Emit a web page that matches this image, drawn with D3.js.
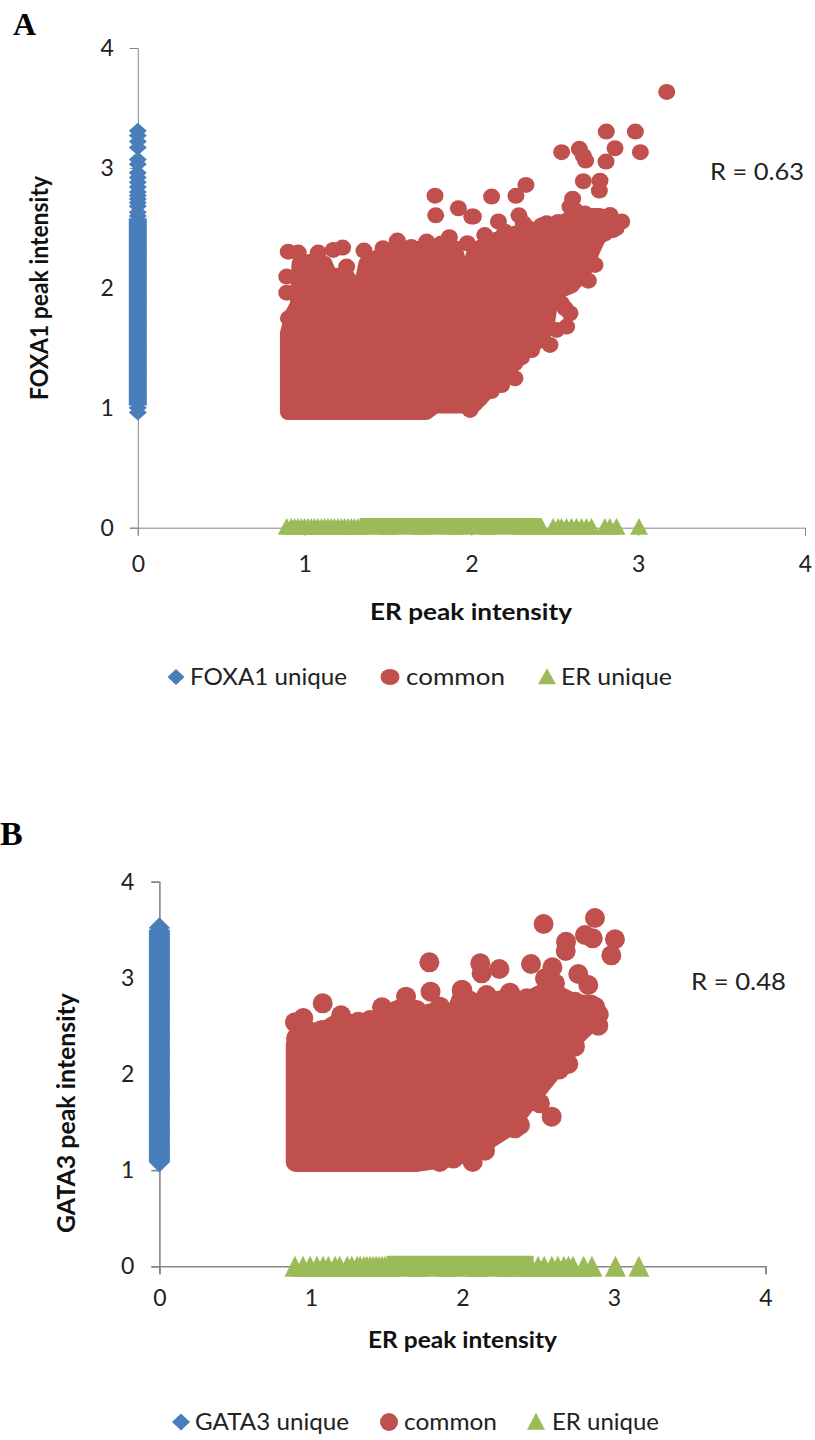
<!DOCTYPE html>
<html>
<head>
<meta charset="utf-8">
<script src="https://cdn.jsdelivr.net/npm/d3@7"></script>
<style>
  body { margin: 0; background: #fff; }
  svg { display: block; }
  text { font-family: Lato, sans-serif; fill: #222; }
  .letter { font-family: "Liberation Serif", serif; font-weight: bold; fill: #000; }
  .axisLabel { font-weight: bold; fill: #111; }
</style>
</head>
<body>
<script>
const ticks = [0, 1, 2, 3, 4];
const blue = "#4a7ebb", red = "#c0504d", green = "#9bbb59";

// Panel A, values
const foxa1UniqueA = [3.31, 3.27, 3.22, 3.17, 3.07, 3.03, 2.96, 2.92, 2.88, 2.84, 2.8, 2.77, 2.74, 2.71, 2.68, 2.63, 2.6, 2.3, 2.1, 1.9, 1.7, 1.5, 1.3, 1.1, 1.04, 1.0, 0.96];
const foxa1BandA = [1.02, 2.58];

const commonErA = [3.171, 2.809, 2.983, 2.861, 3.013, 2.541, 2.647, 2.671, 2.685, 2.807, 2.671, 2.771, 2.767, 2.121, 2.267, 2.327, 2.607, 2.285, 2.162, 2.012, 2.591, 2.311, 2.451, 2.831, 2.901, 2.851, 2.801, 2.741, 2.701, 2.561, 2.591, 2.571, 2.511, 2.471, 2.361, 2.261, 2.261, 2.181, 2.052, 1.992,
  0.902, 0.962, 1.082, 1.172, 1.228, 1.356, 1.782, 1.786, 1.922, 2.002, 1.868, 1.976, 1.556, 1.732, 1.472, 1.252, 0.893, 0.893, 0.903, 0.973, 1.052,
  1.47, 1.64, 1.82, 2.08, 2.2, 2.34, 2.42, 2.52, 2.62, 2.68, 2.12, 2.2, 2.3, 2.54];
const commonFoxa1A = [3.634, 3.303, 3.303, 3.164, 3.131, 3.131, 3.159, 3.1, 3.061, 3.053, 2.889, 2.894, 2.811, 2.761, 2.767, 2.858, 2.744, 2.605, 2.553, 2.594, 2.678, 2.539, 2.539, 2.608, 2.553, 2.483, 2.455, 2.191, 2.06, 1.83, 1.788, 1.677, 1.649, 1.524, 1.482, 1.371, 1.246, 1.19, 1.079, 0.982,
  2.302, 2.294, 2.294, 2.316, 2.336, 2.311, 2.769, 2.605, 2.664, 2.594, 2.422, 2.372, 2.394, 2.386, 2.302, 2.177, 2.094, 1.96, 1.746, 2.177, 2.219,
  2.33, 2.34, 2.37, 2.44, 2.47, 2.5, 2.52, 2.55, 2.65, 2.62, 1.14, 1.27, 1.42, 1.87];

// dense part of the cloud, too packed to read single points
const coreErA = [0.9, 0.93, 0.96, 0.97, 1.05, 1.12, 1.15, 1.25, 1.3, 1.34, 1.37, 1.5, 1.56, 1.65, 1.73, 1.78, 1.85, 1.9, 1.93, 1.99, 2.02, 2.1, 2.2, 2.3, 2.42, 2.45, 2.48, 2.6, 2.65, 2.7, 2.72, 2.76, 2.82, 2.87];
const coreTopA = [1.62, 1.78, 1.86, 2.2, 2.22, 2.2, 2.1, 2.1, 2.0, 2.0, 2.2, 2.3, 2.35, 2.3, 2.35, 2.33, 2.33, 2.33, 2.16, 2.16, 2.3, 2.38, 2.42, 2.47, 2.48, 2.5, 2.5, 2.58, 2.6, 2.6, 2.6, 2.6, 2.58, 2.52];
const coreBottomA = [0.965, 0.965, 0.965, 0.965, 0.965, 0.965, 0.965, 0.965, 0.965, 0.965, 0.965, 0.965, 0.965, 0.965, 0.965, 1.02, 1.02, 1.02, 1.02, 1.02, 1.03, 1.15, 1.3, 1.45, 1.58, 1.68, 1.95, 2.02, 2.1, 2.2, 2.3, 2.42, 2.48, 2.5];

const erUniqueA = [0.893, 0.92, 0.94, 0.96, 0.98, 1.0, 1.02, 1.04, 1.06, 1.08, 1.1, 1.12, 1.14, 1.16, 1.18, 1.2, 1.22, 1.24, 1.26, 1.28, 1.3, 1.32, 1.34, 1.5, 1.7, 1.9, 2.1, 2.3, 2.4, 2.42,
  2.49, 2.52, 2.54, 2.57, 2.6, 2.63, 2.66, 2.69, 2.72, 2.8, 2.83, 2.87, 3.005];
const erBandA = [1.33, 2.42];

// Panel B
const gata3UniqueB = [3.52, 3.46, 3.42, 3.37, 3.33, 3.28, 3.24, 3.19, 3.15, 3.1, 3.05, 3.0, 2.95, 2.9, 2.8, 2.6, 2.4, 2.2, 2.0, 1.8, 1.6, 1.4, 1.2, 1.12, 1.085];
const gata3BandB = [1.085, 3.5];

const commonErB = [1.782, 1.078, 1.79, 1.628, 1.469, 1.199, 0.95, 0.895, 0.902, 2.0, 1.313, 1.39, 1.071, 1.698, 1.852,
  2.875, 2.536, 2.809, 2.86, 3.007, 2.684, 2.682, 2.983, 2.453, 2.118, 2.127, 2.244, 2.594, 2.765, 2.831, 2.545, 2.611, 1.995, 2.16, 2.314, 2.424, 2.743, 2.875, 2.897, 2.743, 2.699, 2.64, 2.512, 2.589, 2.38, 2.347, 2.193, 2.149, 2.068, 1.85, 1.94];
const commonGata3B = [3.161, 2.735, 2.856, 2.804, 2.693, 2.61, 2.582, 2.537, 2.371, 2.874, 2.544, 2.561, 2.458, 2.666, 2.7,
  3.622, 3.56, 3.446, 3.411, 3.401, 3.376, 3.279, 3.234, 3.144, 3.151, 3.047, 3.092, 3.109, 3.04, 2.926, 2.995, 2.943, 2.874, 2.822, 2.846, 2.787, 2.752, 2.7, 2.503, 2.284, 2.104, 2.048, 1.695, 1.556, 1.47, 1.435, 1.348, 1.203, 1.085, 1.085, 1.12];

const coreErB = [0.9, 0.95, 1.07, 1.2, 1.3, 1.4, 1.47, 1.63, 1.7, 1.85, 1.95, 2.0, 2.1, 2.3, 2.42, 2.55, 2.65, 2.75, 2.85, 2.9];
const coreTopB = [2.3, 2.45, 2.42, 2.55, 2.5, 2.5, 2.6, 2.7, 2.6, 2.65, 2.6, 2.8, 2.72, 2.78, 2.75, 2.85, 2.8, 2.72, 2.72, 2.62];
const coreBottomB = [1.085, 1.085, 1.085, 1.085, 1.085, 1.085, 1.085, 1.085, 1.085, 1.12, 1.14, 1.18, 1.25, 1.45, 1.7, 1.95, 2.15, 2.4, 2.55, 2.62];

const erUniqueB = [0.895, 0.948, 0.995, 1.04, 1.08, 1.115, 1.16, 1.19, 1.24, 1.27, 1.305, 1.325, 1.35, 1.37, 1.39, 1.41, 1.43, 1.45, 1.47, 1.49, 1.52, 1.7, 1.9, 2.1, 2.3, 2.45, 2.5, 2.54, 2.59, 2.63, 2.67, 2.7, 2.73, 2.8, 2.855, 3.01, 3.165];
const erBandB = [1.5, 2.47];

const svg = d3.select("body").append("svg").attr("width", 815).attr("height", 1440);

// the symbols are scaled on their own so marker width and height can differ
const circlePath = d3.symbol(d3.symbolCircle, Math.PI)();
const diamondPath = d3.symbol(d3.symbolDiamond, 2 * Math.tan(Math.PI / 6))();
const trianglePath = d3.symbol(d3.symbolTriangle, 3 * Math.sqrt(3))();

function circleAt(x, y, w, h) { return "translate(" + x + "," + y + ") scale(" + w / 2 + "," + h / 2 + ")"; }
function diamondAt(x, y, w, h) { return "translate(" + x + "," + y + ") scale(" + w / (2 * Math.tan(Math.PI / 6)) + "," + h / 2 + ")"; }
function triangleAt(x, y, w, h) { return "translate(" + x + "," + y + ") scale(" + w / (2 * Math.sqrt(3)) + "," + h / 3 + ")"; }

function drawPanel(p) {
  let xScale = d3.scaleLinear().domain([0, 4]).range(p.xRange);
  let yScale = d3.scaleLinear().domain([0, 4]).range(p.yRange);

  let xAxis = d3.axisBottom(xScale).tickValues(ticks).tickFormat(d3.format("d")).tickSize(p.tick).tickPadding(p.xPadding);
  let yAxis = d3.axisLeft(yScale).tickValues(ticks).tickFormat(d3.format("d")).tickSize(p.tick).tickPadding(p.yPadding);

  [[xAxis, yScale(0), 0], [yAxis, 0, xScale(0)]].forEach(a => {
    let g = svg.append("g")
      .attr("transform", "translate(" + a[2] + "," + a[1] + ")")
      .call(a[0]);
    g.selectAll("path, line").attr("stroke", "#868686").attr("stroke-width", p.axisWidth);
    g.selectAll("text").attr("font-size", p.tickFont).attr("font-family", "Lato").attr("fill", "#222");
  });

  // unique-to-y series, column on x = 0
  svg.append("path")
    .attr("d", d3.line()([[xScale(0), yScale(p.yBand[0])], [xScale(0), yScale(p.yBand[1])]]))
    .attr("stroke", blue).attr("stroke-width", p.blueSize[0]).attr("fill", "none");
  svg.append("g").selectAll("path").data(p.yUnique).enter().append("path")
    .attr("d", diamondPath)
    .attr("fill", blue)
    .attr("transform", d => diamondAt(xScale(0), yScale(d), p.blueSize[0], p.blueSize[1]));

  // common peaks
  let area = d3.area()
    .x(d => xScale(d))
    .y0((d, i) => yScale(p.coreBottom[i]))
    .y1((d, i) => yScale(p.coreTop[i]));
  svg.append("path")
    .attr("d", area(p.coreEr))
    .attr("fill", red).attr("stroke", red)
    .attr("stroke-width", p.redSize[1]).attr("stroke-linejoin", "round");
  svg.append("g").selectAll("path").data(p.commonEr).enter().append("path")
    .attr("d", circlePath)
    .attr("fill", red)
    .attr("transform", (d, i) => circleAt(xScale(d), yScale(p.commonY[i]), p.redSize[0], p.redSize[1]));

  // ER unique, row on y = 0
  svg.append("path")
    .attr("d", d3.line()([[xScale(p.erBand[0]), yScale(0) + p.bandShift], [xScale(p.erBand[1]), yScale(0) + p.bandShift]]))
    .attr("stroke", green).attr("stroke-width", p.greenSize[1]).attr("fill", "none");
  svg.append("g").selectAll("path").data(p.erUnique).enter().append("path")
    .attr("d", trianglePath)
    .attr("fill", green)
    .attr("transform", d => triangleAt(xScale(d), yScale(0) + p.triShift, p.greenSize[0], p.greenSize[1]));

  // labels
  svg.append("text").attr("class", "letter").attr("x", p.letter[1]).attr("y", p.letter[2])
    .attr("font-size", p.letter[3]).text(p.letter[0]);
  svg.append("text").attr("x", p.r[1]).attr("y", p.r[2]).attr("font-size", p.tickFont)
    .attr("textLength", p.r[3]).attr("lengthAdjust", "spacingAndGlyphs").text(p.r[0]);
  svg.append("text").attr("class", "axisLabel").attr("x", p.xLabel[0]).attr("y", p.xLabel[1])
    .attr("font-size", p.labelFont).attr("textLength", p.xLabel[2]).attr("lengthAdjust", "spacingAndGlyphs")
    .text("ER peak intensity");
  svg.append("text").attr("class", "axisLabel")
    .attr("transform", "translate(" + p.yLabel[1] + "," + p.yLabel[2] + ") rotate(-90)")
    .attr("font-size", p.yLabel[4]).attr("textLength", p.yLabel[3]).attr("lengthAdjust", "spacingAndGlyphs")
    .text(p.yLabel[0]);

  // legend
  let l = p.legend;
  svg.append("path").attr("d", diamondPath).attr("fill", blue)
    .attr("transform", diamondAt(l.marks[0], l.y, l.sizes[0][0], l.sizes[0][1]));
  svg.append("path").attr("d", circlePath).attr("fill", red)
    .attr("transform", circleAt(l.marks[1], l.y, l.sizes[1][0], l.sizes[1][1]));
  svg.append("path").attr("d", trianglePath).attr("fill", green)
    .attr("transform", triangleAt(l.marks[2], l.y + 2, l.sizes[2][0], l.sizes[2][1]));
  l.names.forEach((n, i) => {
    svg.append("text").attr("x", l.textX[i]).attr("y", l.base).attr("font-size", p.legendFont)
      .attr("textLength", l.textW[i]).attr("lengthAdjust", "spacingAndGlyphs").text(n);
  });
}

drawPanel({
  xRange: [137.8, 805], yRange: [527.7, 48],
  tick: 8, xPadding: 20, yPadding: 16, axisWidth: 1, tickFont: 23, labelFont: 23, legendFont: 23,
  yUnique: foxa1UniqueA, yBand: foxa1BandA, blueSize: [18, 16],
  commonEr: commonErA, commonY: commonFoxa1A, coreEr: coreErA, coreTop: coreTopA, coreBottom: coreBottomA, redSize: [17, 16],
  erUnique: erUniqueA, erBand: erBandA, greenSize: [18, 16.7], triShift: 1.4, bandShift: -1.3,
  letter: ["A", 13, 35, 32],
  r: ["R = 0.63", 710, 180, 94],
  xLabel: [370, 620, 202],
  yLabel: ["FOXA1 peak intensity", 48, 400, 224, 25],
  legend: {
    y: 677, base: 685,
    names: ["FOXA1 unique", "common", "ER unique"],
    marks: [176, 390, 547], textX: [190, 406, 561], textW: [157, 99, 111],
    sizes: [[17, 16], [19, 16], [18, 16]]
  }
});

drawPanel({
  xRange: [159.4, 765.4], yRange: [1266.3, 881.7],
  tick: 8, xPadding: 15, yPadding: 17, axisWidth: 1.6, tickFont: 23, labelFont: 23, legendFont: 23,
  yUnique: gata3UniqueB, yBand: gata3BandB, blueSize: [21, 21],
  commonEr: commonErB, commonY: commonGata3B, coreEr: coreErB, coreTop: coreTopB, coreBottom: coreBottomB, redSize: [20, 20],
  erUnique: erUniqueB, erBand: erBandB, greenSize: [21, 21], triShift: 3.4, bandShift: 0,
  letter: ["B", 0, 845, 34],
  r: ["R = 0.48", 691, 990, 95],
  xLabel: [368, 1348, 189],
  yLabel: ["GATA3 peak intensity", 75, 1233, 240, 24],
  legend: {
    y: 1422, base: 1430,
    names: ["GATA3 unique", "common", "ER unique"],
    marks: [181, 389, 536], textX: [195, 404, 552], textW: [154, 93, 107],
    sizes: [[18, 17], [18, 18], [18, 17]]
  }
});
</script>
</body>
</html>
